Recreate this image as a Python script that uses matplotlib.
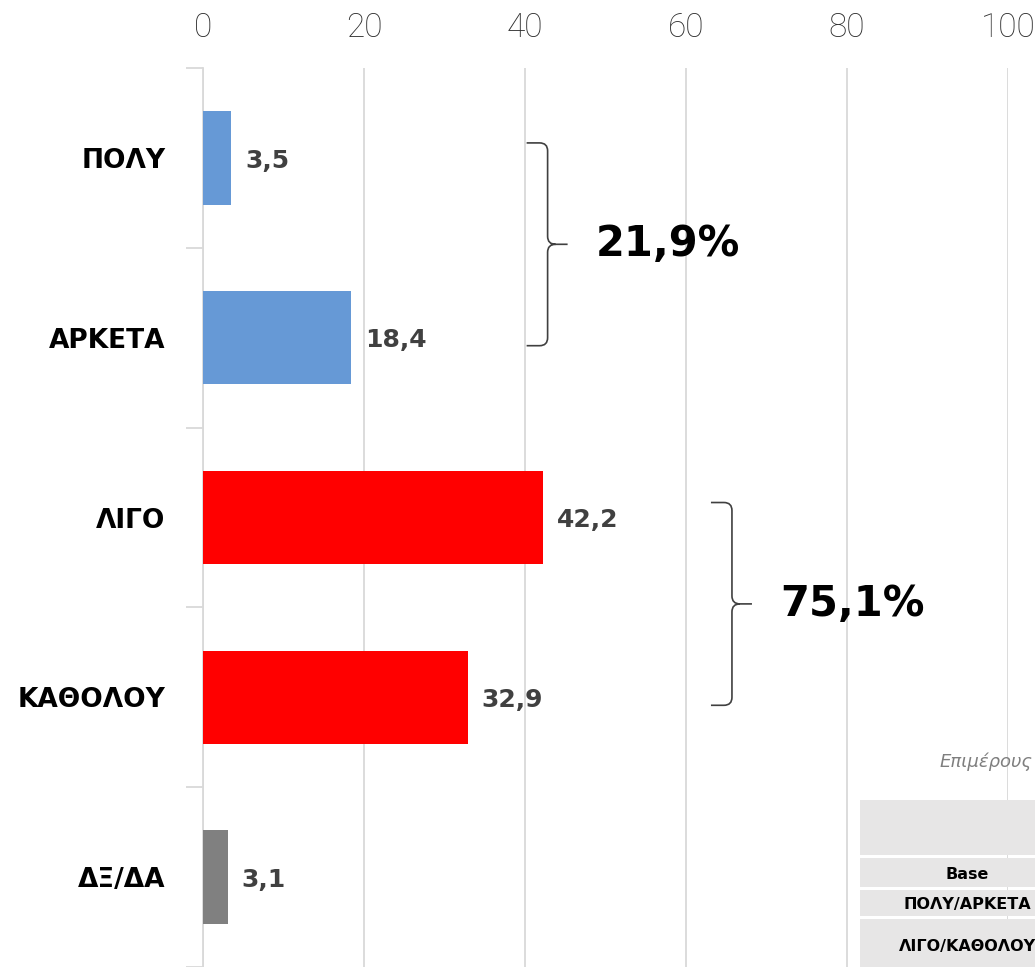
import numpy as np
import matplotlib
matplotlib.use('Agg')
import matplotlib.pyplot as plt
from matplotlib.path import Path
from matplotlib.patches import PathPatch, Rectangle

# data
cats = ['ΠΟΛΥ', 'ΑΡΚΕΤΑ', 'ΛΙΓΟ', 'ΚΑΘΟΛΟΥ', 'ΔΞ/ΔΑ']
vals = [3.5, 18.4, 42.2, 32.9, 3.1]
cols = ['#6699d6', '#6699d6', '#ff0000', '#ff0000', '#808080']
xticks = [0, 20, 40, 60, 80, 100]
groups = [(0, 1, '21,9%'), (2, 3, '75,1%')]
tbl_rows = ['', 'Base', 'ΠΟΛΥ/ΑΡΚΕΤΑ', 'ΛΙΓΟ/ΚΑΘΟΛΟΥ']

W, H = 1035, 967
fig = plt.figure(figsize=(W/100, H/100), dpi=100)
ax = fig.add_axes([203/W, 0, (1008-203)/W, (H-68)/H])

y = np.arange(len(cats))
ax.barh(y, vals, height=0.52, color=cols, zorder=3)
ax.set_ylim(len(cats)-0.5, -0.5)
ax.set_xlim(0, 100)

ax.xaxis.tick_top()
ax.set_xticks(xticks)
ax.set_xticklabels([str(t) for t in xticks], fontsize=24, color='#2e2e2e',
                   family=['Roboto', 'DejaVu Sans'], fontweight='light')
ax.tick_params(axis='x', length=0, pad=17)
ax.grid(axis='x', color='#d9d9d9', lw=1.3, zorder=0)

# y ticks at category boundaries, labels at centres
ax.set_yticks(np.arange(-0.5, len(cats)), minor=False)
ax.set_yticklabels([])
ax.set_yticks(y, minor=True)
ax.set_yticklabels(cats, minor=True, fontsize=19, fontweight='bold', color='black')
ax.tick_params(axis='y', which='major', length=12, color='#d9d9d9', width=1.3)
ax.tick_params(axis='y', which='minor', length=0, pad=27)

for s in ['top', 'right', 'bottom']:
    ax.spines[s].set_visible(False)
ax.spines['left'].set_color('#d9d9d9')
ax.spines['left'].set_linewidth(1.3)

for i, v in enumerate(vals):
    ax.annotate(f'{v:.1f}'.replace('.', ','), (v, i), xytext=(10, -2),
                textcoords='offset points', va='center', ha='left',
                fontsize=18, fontweight='bold', color='#404040')

# curly brackets
px = 100/805.0   # data units per pixel in x
py = 1/180.0     # data units per pixel in y
brace_x = [40.2, 63.1]

def brace(k, a, b, label):
    ytop = a - 0.5 + 75*py
    ybot = b + 0.5 - 82*py
    ymid = (ytop + ybot) / 2
    x0 = brace_x[k]
    xv = x0 + 21*px
    xt = xv + 20*px
    r = 8
    verts = [(x0, ytop), (xv - r*px, ytop), (xv, ytop), (xv, ytop + r*py),
             (xv, ymid - r*py), (xv, ymid), (xv + r*px, ymid), (xt, ymid),
             (xv + r*px, ymid), (xv, ymid), (xv, ymid + r*py),
             (xv, ybot - r*py), (xv, ybot), (xv - r*px, ybot), (x0, ybot)]
    codes = [Path.MOVETO, Path.LINETO, Path.CURVE3, Path.CURVE3,
             Path.LINETO, Path.CURVE3, Path.CURVE3, Path.LINETO,
             Path.MOVETO, Path.CURVE3, Path.CURVE3,
             Path.LINETO, Path.CURVE3, Path.CURVE3, Path.LINETO]
    ax.add_patch(PathPatch(Path(verts, codes), fill=False, ec='#404040',
                           lw=1.2, zorder=4, clip_on=False))
    ax.text(xt + 28*px, ymid, label, fontsize=30, fontweight='bold',
            color='black', va='center', ha='left')

for k, (a, b, lab) in enumerate(groups):
    brace(k, a, b, lab)

# partial table at bottom right (cut by the figure edge)
ov = fig.add_axes([0, 0, 1, 1], zorder=5)
ov.set_xlim(0, W)
ov.set_ylim(H, 0)
ov.axis('off')
ov.patch.set_alpha(0)
ov.text(940, 762, 'Επιμέρους', fontsize=13, style='italic', color='#7f7f7f',
        va='center', ha='left')
rows_y = [(800, 855), (858, 887), (890, 916), (919, 970)]
for (t, bt), lab in zip(rows_y, tbl_rows):
    ov.add_patch(Rectangle((860, t), 300, bt - t, fc='#e7e6e6', ec='none'))
    if lab:
        ov.text(967, (t + bt) / 2 + 2, lab, fontsize=11.5, fontweight='bold',
                color='black', va='center', ha='center')

fig.savefig('out.png', dpi=100, facecolor='white')
